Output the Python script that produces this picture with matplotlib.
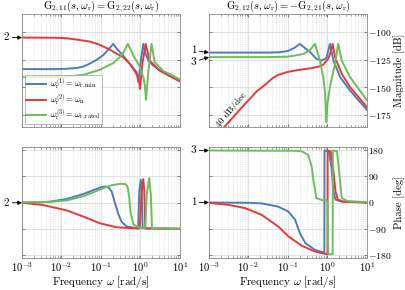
import numpy as np
import matplotlib
matplotlib.use("Agg")
import matplotlib.pyplot as plt
from matplotlib.ticker import LogLocator, NullFormatter, FixedLocator

plt.rcParams.update({
    'font.family': 'cmr10',
    'mathtext.fontset': 'cm',
    'axes.unicode_minus': False,
    'axes.formatter.use_mathtext': True,
    'font.size': 8,
})

# ---------------- data (frequency given as log10(omega [rad/s])) ----------------
# G_{2,11} magnitude [dB]
m11_blue_lw = [-3, -2.2, -1.87, -1.6, -1.45, -1.3, -1.11, -0.95, -0.86, -0.76, -0.69, -0.6, -0.44, -0.27, -0.1, -0.055, 0.0, 0.07, 0.13, 0.2, 0.3, 0.49, 0.7, 1.0]
m11_blue_db = [-133.5, -133.5, -133.2, -132.4, -131.2, -128.8, -125.1, -121, -117.6, -113.5, -110.6, -115, -121.2, -128.7, -136.2, -145.3, -128, -110.6, -120, -125.7, -129.5, -134.8, -139, -144.5]
m11_red_lw = [-3, -2.2, -1.87, -1.6, -1.28, -1.03, -0.77, -0.6, -0.44, -0.27, -0.1, -0.04, -0.013, 0.05, 0.13, 0.18, 0.23, 0.35, 0.49, 0.7, 1.0]
m11_red_db = [-104.9, -105, -105.5, -106.8, -108.5, -111.5, -116, -119.5, -122.6, -128.7, -137.8, -143, -151.4, -128, -110.6, -118, -125.7, -130, -134.8, -139, -144.5]
m11_green_lw = [-3, -2.2, -1.87, -1.45, -1.03, -0.69, -0.52, -0.44, -0.32, -0.18, -0.013, 0.08, 0.11, 0.14, 0.2, 0.28, 0.36, 0.58, 0.8, 1.0]
m11_green_db = [-140.8, -140.7, -140.3, -138.7, -134.2, -128, -122.6, -119, -110.6, -121.2, -131.7, -142, -148.3, -161.3, -135, -110.6, -127.2, -135.3, -139, -143]

# G_{2,12} magnitude [dB]
m12_blue_lw = [-3, -1.5, -1.2, -1.0, -0.85, -0.70, -0.55, -0.44, -0.28, -0.15, -0.05, -0.02, 0.06, 0.15, 0.32, 0.57, 1.0]
m12_blue_db = [-118.5, -118.5, -118.2, -117, -114.5, -110.6, -115, -118.1, -124.2, -125.7, -124, -122.6, -110.6, -125.7, -140.8, -152.9, -170.5]
m12_red_lw = [-2.75, -2.6, -2.2, -1.8, -1.58, -1.4, -1.25, -1.0, -0.82, -0.6, -0.40, -0.2, -0.11, 0.02, 0.08, 0.13, 0.19, 0.36, 0.57, 1.0]
m12_red_db = [-191.5, -185.5, -169.5, -154, -147.7, -142, -138.7, -136, -134.8, -133.6, -132.6, -131, -129.6, -124, -118, -110.6, -122.6, -137.8, -149.8, -168]
m12_green_lw = [-3, -1.5, -1.0, -0.8, -0.61, -0.45, -0.32, -0.19, -0.11, -0.06, -0.03, 0.0, 0.06, 0.19, 0.27, 0.36, 0.57, 0.82, 1.0]
m12_green_db = [-122.6, -122.6, -122.2, -121, -119.7, -116.5, -110.6, -125.7, -140.8, -155, -181.5, -165, -149.8, -128.7, -110.6, -125.7, -140.8, -152.9, -162]

# G_{2,11} phase [deg]
p11_blue_lw = [-3, -2.5, -2.29, -1.87, -1.45, -1.2, -1.0, -0.88, -0.8, -0.73, -0.65, -0.56, -0.48, -0.35, -0.1, -0.06, -0.03, 0.005, 0.03, 0.055, 1.0]
p11_blue_deg = [0, 1, 3, 12, 29, 42, 52, 55, 50, 38, 0, -40, -66, -82, -88, -88, 40, 78, 40, -88, -90]
p11_red_lw = [-3, -2.5, -2.29, -1.87, -1.45, -1.03, -0.6, -0.1, -0.02, 0.03, 0.07, 0.095, 0.12, 1.0]
p11_red_deg = [-1, -8, -14, -27, -48, -71, -85, -89, -89, 40, 80, 40, -89, -90]
p11_green_lw = [-3, -2.3, -1.87, -1.45, -1.03, -0.77, -0.52, -0.38, -0.33, -0.29, -0.25, -0.18, -0.01, 0.12, 0.16, 0.22, 0.26, 0.29, 1.0]
p11_green_deg = [0, 2, 7, 21, 44, 58, 64, 63, 55, 23, -35, -75, -87, -88, 30, 84, 30, -88, -90]

# G_{2,12} phase [deg]
p12_blue_lw = [-3, -2.0, -1.67, -1.25, -0.99, -0.82, -0.70, -0.56, -0.32, -0.1, -0.08, -0.075, 0.04, 0.1, 0.15, 0.2, 0.35, 1.0]
p12_blue_deg = [0, -1, -3, -14, -31, -59, -105, -139, -162, -171, -174, 178, 175, 120, 40, 10, 3, 0]
p12_red_lw = [-3, -2.51, -2.09, -1.67, -1.25, -0.99, -0.65, -0.32, -0.02, 0.0, 0.005, 0.08, 0.15, 0.2, 0.26, 0.4, 1.0]
p12_red_deg = [-1, -8, -19, -42, -82, -116, -148, -168, -177, -178, 178, 175, 110, 40, 10, 3, 0]
p12_green_lw = [-3, -0.82, -0.65, -0.49, -0.40, -0.36, -0.28, -0.11, -0.03, 0.0, 0.02, 0.13, 0.135, 0.24, 0.3, 0.36, 0.5, 1.0]
p12_green_deg = [178, 177, 175, 163, 123, 78, 15, 7, 8, 5, -177, -177, 178, 176, 100, 15, 5, 1]

legend_labels = [r'$\omega_\mathrm{r}^{(1)} = \omega_\mathrm{r,min}$',
                 r'$\omega_\mathrm{r}^{(2)} = \omega_\mathrm{n}$',
                 r'$\omega_\mathrm{r}^{(3)} = \omega_\mathrm{r,rated}$']
colors = ['#4a7ebb', '#e8393a', '#6abf5b']
mag_ticks = [-100, -125, -150, -175]
phase_ticks = [-180, -90, 0, 90, 180]

# ---------------- figure ----------------
fig = plt.figure(figsize=(4.06, 2.90), dpi=100)
W, H = 406, 290
def rect(x0, x1, y0, y1):
    return [x0 / W, 1 - y1 / H, (x1 - x0) / W, (y1 - y0) / H]

ax11 = fig.add_axes(rect(22, 180, 14, 127))
ax12 = fig.add_axes(rect(209, 367, 14, 127))
axp11 = fig.add_axes(rect(22, 180, 147, 258))
axp12 = fig.add_axes(rect(209, 367, 147, 258))

def w(lw):
    return 10.0 ** np.asarray(lw)

lw_line = 1.4
ax11.plot(w(m11_blue_lw), m11_blue_db, color=colors[0], lw=lw_line, label=legend_labels[0])
ax11.plot(w(m11_red_lw), m11_red_db, color=colors[1], lw=lw_line, label=legend_labels[1])
ax11.plot(w(m11_green_lw), m11_green_db, color=colors[2], lw=lw_line, label=legend_labels[2])

ax12.plot(w(m12_blue_lw), m12_blue_db, color=colors[0], lw=lw_line)
ax12.plot(w(m12_red_lw), m12_red_db, color=colors[1], lw=lw_line)
ax12.plot(w(m12_green_lw), m12_green_db, color=colors[2], lw=lw_line)

axp11.plot(w(p11_blue_lw), p11_blue_deg, color=colors[0], lw=lw_line)
axp11.plot(w(p11_red_lw), p11_red_deg, color=colors[1], lw=lw_line)
axp11.plot(w(p11_green_lw), p11_green_deg, color=colors[2], lw=lw_line)

axp12.plot(w(p12_blue_lw), p12_blue_deg, color=colors[0], lw=lw_line)
axp12.plot(w(p12_red_lw), p12_red_deg, color=colors[1], lw=lw_line)
axp12.plot(w(p12_green_lw), p12_green_deg, color=colors[2], lw=lw_line)

for ax in (ax11, ax12, axp11, axp12):
    ax.set_xscale('log')
    ax.set_xlim(1e-3, 1e1)
    ax.xaxis.set_major_locator(LogLocator(base=10, numticks=10))
    ax.xaxis.set_minor_locator(LogLocator(base=10, subs=np.arange(2, 10), numticks=20))
    ax.xaxis.set_minor_formatter(NullFormatter())
    ax.grid(True, which='major', color='#dcdcdc', lw=0.6)
    ax.grid(True, which='minor', axis='x', color='#d0d0d0', lw=0.5, ls=':')
    ax.tick_params(which='both', direction='in', top=True, right=True, left=True,
                   color='#555555', labelsize=7.6, pad=1.5)
    ax.tick_params(which='major', length=2.5, width=0.5)
    ax.tick_params(which='minor', length=1.5, width=0.4)
    for s in ax.spines.values():
        s.set_color('#888888')
        s.set_linewidth(0.6)
        s.set_linestyle((0, (1, 1)))

for ax in (ax11, ax12):
    ax.set_ylim(-186, -83.5)
    ax.yaxis.set_major_locator(FixedLocator(mag_ticks))
    ax.tick_params(labelbottom=False)
for ax in (axp11, axp12):
    ax.set_ylim(-190, 190)
    ax.yaxis.set_major_locator(FixedLocator(phase_ticks))
    ax.set_xlabel(r'Frequency $\omega$ [rad/s]', fontsize=8, labelpad=0)

ax11.tick_params(labelleft=False)
axp11.tick_params(labelleft=False)
for ax in (ax12, axp12):
    ax.yaxis.set_label_position('right')
    ax.tick_params(axis='y', labelleft=False, labelright=True, labelsize=7.0, pad=1)
ax12.set_ylabel('Magnitude [dB]', fontsize=7.8)
axp12.set_ylabel('Phase [deg]', fontsize=7.8)
for ax in (ax12, axp12):
    ax.yaxis.label.set_va('center')
    ax.yaxis.set_label_coords((399 - 209) / 158, 0.5)

ax11.set_title(r'$\mathrm{G}_{2,11}(s,\omega_\mathrm{r}) = \mathrm{G}_{2,22}(s,\omega_\mathrm{r})$', fontsize=7.6, pad=2)
ax12.set_title(r'$\mathrm{G}_{2,12}(s,\omega_\mathrm{r}) = -\mathrm{G}_{2,21}(s,\omega_\mathrm{r})$', fontsize=7.6, pad=2)

leg = ax11.legend(loc='lower left', fontsize=6.3, frameon=True, fancybox=False,
                  edgecolor='#999999', handlelength=2.2, borderpad=0.2,
                  labelspacing=0.05, handletextpad=0.5, borderaxespad=0.3)
leg.get_frame().set_linewidth(0.6)

ax12.text(10 ** -2.43, -170.5, '40 dB/dec', rotation=50, ha='center', va='center', fontsize=6.8)

arrow = dict(arrowstyle='-|>', color='black', lw=0.6, mutation_scale=6, shrinkA=0, shrinkB=0)
def mark(ax, txt, y, dy=0):
    ax.annotate(txt, xy=(1e-3, y), xytext=(-9, dy), textcoords='offset points',
                ha='right', va='center', fontsize=8, arrowprops=arrow,
                annotation_clip=False)

mark(ax11, '2', m11_red_db[0])
mark(ax12, '1', m12_blue_db[0], 1.5)
mark(ax12, '3', m12_green_db[0], -3.5)
mark(axp11, '2', p11_red_deg[0])
mark(axp12, '3', p12_green_deg[0])
mark(axp12, '1', p12_blue_deg[0])

fig.savefig('out.png', dpi=100)
